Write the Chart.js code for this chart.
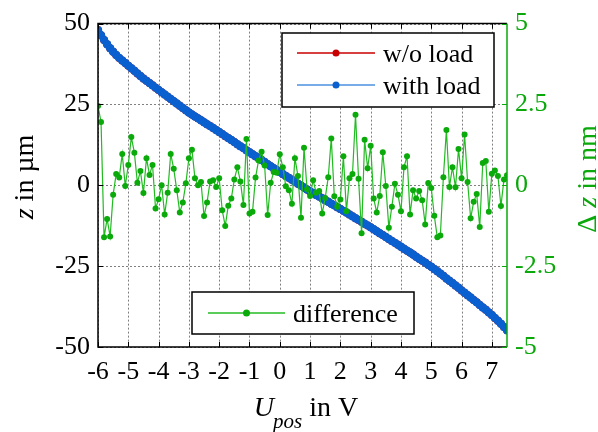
<!DOCTYPE html>
<html><head><meta charset="utf-8">
<script src="https://cdn.jsdelivr.net/npm/chart.js@4/dist/chart.umd.min.js"></script>
<style>html,body{margin:0;padding:0;background:#fff;}canvas{display:block;}</style>
</head><body>
<canvas id="c" width="598" height="432"></canvas>
<script>
// ---------- data ----------
const uPos = [
-6.0,-5.9,-5.8,-5.7,-5.6,-5.5,-5.4,-5.3,-5.2,-5.1,
-5.0,-4.9,-4.8,-4.7,-4.6,-4.5,-4.4,-4.3,-4.2,-4.1,
-4.0,-3.9,-3.8,-3.7,-3.6,-3.5,-3.4,-3.3,-3.2,-3.1,
-3.0,-2.9,-2.8,-2.7,-2.6,-2.5,-2.4,-2.3,-2.2,-2.1,
-2.0,-1.9,-1.8,-1.7,-1.6,-1.5,-1.4,-1.3,-1.2,-1.1,
-1.0,-0.9,-0.8,-0.7,-0.6,-0.5,-0.4,-0.3,-0.2,-0.1,
0.0,0.1,0.2,0.3,0.4,0.5,0.6,0.7,0.8,0.9,
1.0,1.1,1.2,1.3,1.4,1.5,1.6,1.7,1.8,1.9,
2.0,2.1,2.2,2.3,2.4,2.5,2.6,2.7,2.8,2.9,
3.0,3.1,3.2,3.3,3.4,3.5,3.6,3.7,3.8,3.9,
4.0,4.1,4.2,4.3,4.4,4.5,4.6,4.7,4.8,4.9,
5.0,5.1,5.2,5.3,5.4,5.5,5.6,5.7,5.8,5.9,
6.0,6.1,6.2,6.3,6.4,6.5,6.6,6.7,6.8,6.9,
7.0,7.1,7.2,7.3,7.4,7.5];

const zWithLoad = [
48.0,46.4,44.9,43.6,42.4,41.3,40.3,39.4,38.6,37.8,
37.0,36.2,35.4,34.6,33.8,33.0,32.3,31.6,30.9,30.2,
29.5,28.8,28.1,27.4,26.7,26.0,25.3,24.6,23.9,23.2,
22.5,21.9,21.3,20.7,20.1,19.5,18.9,18.3,17.7,17.1,
16.5,15.9,15.2,14.6,14.0,13.4,12.7,12.1,11.5,10.8,
10.2,9.6,9.0,8.4,7.8,7.2,6.5,5.9,5.3,4.7,
4.1,3.5,2.9,2.3,1.7,1.1,0.5,-0.1,-0.7,-1.3,
-1.9,-2.4,-3.0,-3.5,-4.0,-4.6,-5.1,-5.7,-6.2,-6.8,
-7.3,-7.9,-8.4,-9.0,-9.6,-10.2,-10.7,-11.3,-11.9,-12.4,
-13.0,-13.6,-14.2,-14.8,-15.4,-16.0,-16.6,-17.2,-17.8,-18.4,
-19.0,-19.6,-20.2,-20.8,-21.4,-22.1,-22.7,-23.3,-23.9,-24.6,
-25.2,-25.9,-26.6,-27.3,-28.0,-28.8,-29.5,-30.2,-31.0,-31.7,
-32.5,-33.2,-34.0,-34.7,-35.5,-36.2,-37.0,-37.8,-38.5,-39.3,
-40.1,-41.0,-41.9,-42.8,-43.8,-44.8];

// w/o load is hidden underneath "with load" in the reference (differences are in nm)
const zWithoutLoad = [
48.0,46.4,44.9,43.6,42.4,41.3,40.3,39.4,38.6,37.8,
37.0,36.2,35.4,34.6,33.8,33.0,32.3,31.6,30.9,30.2,
29.5,28.8,28.1,27.4,26.7,26.0,25.3,24.6,23.9,23.2,
22.5,21.9,21.3,20.7,20.1,19.5,18.9,18.3,17.7,17.1,
16.5,15.9,15.2,14.6,14.0,13.4,12.7,12.1,11.5,10.8,
10.2,9.6,9.0,8.4,7.8,7.2,6.5,5.9,5.3,4.7,
4.1,3.5,2.9,2.3,1.7,1.1,0.5,-0.1,-0.7,-1.3,
-1.9,-2.4,-3.0,-3.5,-4.0,-4.6,-5.1,-5.7,-6.2,-6.8,
-7.3,-7.9,-8.4,-9.0,-9.6,-10.2,-10.7,-11.3,-11.9,-12.4,
-13.0,-13.6,-14.2,-14.8,-15.4,-16.0,-16.6,-17.2,-17.8,-18.4,
-19.0,-19.6,-20.2,-20.8,-21.4,-22.1,-22.7,-23.3,-23.9,-24.6,
-25.2,-25.9,-26.6,-27.3,-28.0,-28.8,-29.5,-30.2,-31.0,-31.7,
-32.5,-33.2,-34.0,-34.7,-35.5,-36.2,-37.0,-37.8,-38.5,-39.3,
-40.1,-41.0,-41.9,-42.8,-43.8,-44.8];

const deltaZ = [
2.45,1.96,-1.61,-1.04,-1.58,-0.29,0.35,0.24,0.97,-0.02,
0.63,1.49,1.01,0.08,0.44,-0.24,0.84,0.32,0.63,-0.72,
-0.43,0.0,-0.90,-0.23,0.97,0.51,-0.15,-0.84,-0.53,0.06,
0.84,1.10,0.22,0.0,0.10,-0.95,-0.53,0.12,0.16,-0.05,
0.22,-0.77,-1.26,-0.63,-0.41,0.18,0.56,0.12,-0.61,1.43,
-0.87,-0.82,0.24,0.77,1.04,0.61,-0.92,0.08,0.41,0.39,
0.96,0.56,-0.03,-0.15,-0.57,0.84,0.29,-1.00,1.16,-0.12,
-0.33,0.16,-0.23,-0.18,-0.87,-0.39,0.25,1.45,-0.34,-0.66,
-0.44,0.90,-0.80,0.22,0.35,2.18,0.20,-1.48,1.41,0.53,
1.22,-0.41,-0.84,-0.33,1.02,-0.02,-1.31,-0.66,0.05,-0.29,
-0.80,0.56,0.90,-0.90,-0.15,-0.41,-0.18,-0.46,-1.21,0.07,
-0.08,-0.94,-1.61,-1.55,0.25,1.71,-0.05,0.56,-0.06,1.12,
0.22,1.57,0.10,-1.02,-0.51,-0.27,-1.29,0.69,0.75,-0.82,
0.36,0.46,0.29,-0.64,0.18,0.31];

const xTicks = [-6,-5,-4,-3,-2,-1,0,1,2,3,4,5,6,7];
const zTicks = [-50,-25,0,25,50];
const dzTicks = [-5,-2.5,0,2.5,5];
const seriesNames = ['w/o load','with load','difference'];

// ---------- styling ----------
const SERIF = "'Liberation Serif','Times New Roman',serif";
const GREEN_TXT = '#0aa80a';
const GREEN_LINE = '#22bb22';
const GREEN_DOT = '#0aaa0a';
const BLUE_DOT = '#0b60d0';
const BLUE_LEG_LINE = '#4a90e0';
const RED = '#c80000';

const pts = (ys) => uPos.map((u, i) => ({x: u, y: ys[i]}));

function rich(ctx, parts, x, y) {
  let w = 0;
  parts.forEach(p => { ctx.font = p.font; p.w = ctx.measureText(p.t).width; w += p.w + (p.dx || 0); });
  let cx = x - w / 2;
  parts.forEach(p => {
    ctx.font = p.font; ctx.fillStyle = p.color;
    ctx.fillText(p.t, cx + (p.dx || 0), y + (p.dy || 0));
    cx += p.w + (p.dx || 0);
  });
}

const decor = {
  id: 'decor',
  beforeDatasetsDraw(chart) {
    const {ctx, chartArea: a, scales} = chart;
    ctx.save();
    ctx.strokeStyle = '#808080'; ctx.lineWidth = 1; ctx.setLineDash([2, 2]);
    xTicks.forEach(v => {
      const px = Math.round(scales.x.getPixelForValue(v)) + 0.5;
      ctx.beginPath(); ctx.moveTo(px, a.top); ctx.lineTo(px, a.bottom); ctx.stroke();
    });
    zTicks.forEach(v => {
      const py = Math.round(scales.y.getPixelForValue(v)) + 0.5;
      ctx.beginPath(); ctx.moveTo(a.left, py); ctx.lineTo(a.right, py); ctx.stroke();
    });
    ctx.restore();
  },
  afterDatasetsDraw(chart) {
    const {ctx, chartArea: a, scales} = chart;
    ctx.save();
    ctx.setLineDash([]);
    ctx.lineWidth = 1.5; ctx.strokeStyle = '#000';
    ctx.beginPath();
    ctx.moveTo(a.right, a.top); ctx.lineTo(a.left, a.top); ctx.lineTo(a.left, a.bottom); ctx.lineTo(a.right, a.bottom);
    ctx.stroke();
    ctx.lineWidth = 1;
    xTicks.forEach(v => {
      const px = Math.round(scales.x.getPixelForValue(v)) + 0.5;
      ctx.beginPath(); ctx.moveTo(px, a.bottom); ctx.lineTo(px, a.bottom - 5); ctx.stroke();
      ctx.beginPath(); ctx.moveTo(px, a.top); ctx.lineTo(px, a.top + 5); ctx.stroke();
    });
    zTicks.forEach(v => {
      const py = Math.round(scales.y.getPixelForValue(v)) + 0.5;
      ctx.beginPath(); ctx.moveTo(a.left, py); ctx.lineTo(a.left + 5, py); ctx.stroke();
    });
    ctx.strokeStyle = GREEN_TXT;
    dzTicks.forEach(v => {
      const py = Math.round(scales.y2.getPixelForValue(v)) + 0.5;
      ctx.beginPath(); ctx.moveTo(a.right, py); ctx.lineTo(a.right - 5, py); ctx.stroke();
    });
    ctx.lineWidth = 1.5;
    ctx.beginPath(); ctx.moveTo(a.right, a.top); ctx.lineTo(a.right, a.bottom); ctx.stroke();
    ctx.restore();
  },
  afterDraw(chart) {
    const {ctx} = chart;
    const ds = chart.data.datasets;
    ctx.save();
    ctx.setLineDash([]);
    function box(x0, y0, x1, y1) {
      ctx.fillStyle = '#fff'; ctx.fillRect(x0, y0, x1 - x0, y1 - y0);
      ctx.strokeStyle = '#000'; ctx.lineWidth = 1.5; ctx.strokeRect(x0, y0, x1 - x0, y1 - y0);
    }
    function entry(xl0, xl1, y, lineCol, dotCol, text) {
      ctx.strokeStyle = lineCol; ctx.lineWidth = 1.5;
      ctx.beginPath(); ctx.moveTo(xl0, y); ctx.lineTo(xl1, y); ctx.stroke();
      ctx.fillStyle = dotCol; ctx.beginPath(); ctx.arc((xl0 + xl1) / 2, y, 3.5, 0, Math.PI * 2); ctx.fill();
      ctx.fillStyle = '#000'; ctx.font = '26px ' + SERIF; ctx.textBaseline = 'alphabetic'; ctx.textAlign = 'left';
      ctx.fillText(text, xl1 + 8, y + 9);
    }
    box(282, 33, 494, 107);
    entry(297, 375, 53, ds[0].borderColor, ds[0].pointBackgroundColor, ds[0].label);
    entry(297, 375, 85, BLUE_LEG_LINE, ds[1].pointBackgroundColor, ds[1].label);
    box(192, 292, 414, 334);
    entry(208, 285, 313, ds[2].borderColor, ds[2].pointBackgroundColor, ds[2].label);

    ctx.textBaseline = 'alphabetic'; ctx.textAlign = 'left';
    ctx.save();
    ctx.translate(33, 177); ctx.rotate(-Math.PI / 2);
    rich(ctx, [
      {t: 'z', font: 'italic 28px ' + SERIF, color: '#000'},
      {t: ' in \u00b5m', font: '28px ' + SERIF, color: '#000'}
    ], 0, 0);
    ctx.restore();
    ctx.save();
    ctx.translate(596, 179); ctx.rotate(-Math.PI / 2);
    rich(ctx, [
      {t: '\u0394 ', font: '28px ' + SERIF, color: GREEN_TXT},
      {t: 'z', font: 'italic 28px ' + SERIF, color: GREEN_TXT},
      {t: ' in nm', font: '28px ' + SERIF, color: GREEN_TXT}
    ], 0, 0);
    ctx.restore();
    rich(ctx, [
      {t: 'U', font: 'italic 28px ' + SERIF, color: '#000'},
      {t: 'pos', font: 'italic 21px ' + SERIF, color: '#000', dy: 12, dx: -1},
      {t: ' in V', font: '28px ' + SERIF, color: '#000'}
    ], 306, 416);
    ctx.restore();
  }
};

const tickFont = {family: SERIF, size: 26};

new Chart(document.getElementById('c'), {
  type: 'line',
  data: {
    datasets: [
      {label: seriesNames[0], data: pts(zWithoutLoad), xAxisID: 'x', yAxisID: 'y', order: 3,
       borderColor: RED, borderWidth: 1.5, pointRadius: 4, pointBackgroundColor: RED, pointBorderWidth: 0},
      {label: seriesNames[1], data: pts(zWithLoad), xAxisID: 'x', yAxisID: 'y', order: 2,
       borderColor: BLUE_DOT, borderWidth: 6.5, pointRadius: 4.2, pointBackgroundColor: BLUE_DOT, pointBorderWidth: 0},
      {label: seriesNames[2], data: pts(deltaZ), xAxisID: 'x', yAxisID: 'y2', order: 1,
       borderColor: GREEN_LINE, borderWidth: 1.2, pointRadius: 3, pointBackgroundColor: GREEN_DOT, pointBorderWidth: 0}
    ]
  },
  options: {
    responsive: false, animation: false, devicePixelRatio: 1,
    layout: {padding: {top: 20, left: 0, right: 0, bottom: 0}},
    plugins: {legend: {display: false}, tooltip: {enabled: false}},
    elements: {line: {tension: 0}},
    scales: {
      x: {type: 'linear', min: -6, max: 7.5,
          grid: {display: false, drawTicks: false}, border: {display: false},
          afterBuildTicks: s => { s.ticks = xTicks.map(v => ({value: v})); },
          afterFit: s => { s.height = 85; },
          ticks: {font: tickFont, color: '#000', padding: 10, maxRotation: 0, autoSkip: false, callback: v => String(v)}},
      y: {type: 'linear', position: 'left', min: -50, max: 50,
          grid: {display: false, drawTicks: false}, border: {display: false},
          afterBuildTicks: s => { s.ticks = zTicks.map(v => ({value: v})); },
          afterFit: s => { s.width = 98; },
          ticks: {font: tickFont, color: '#000', padding: 8, callback: v => String(v)}},
      y2: {type: 'linear', position: 'right', min: -5, max: 5,
          grid: {display: false, drawTicks: false}, border: {display: false},
          afterBuildTicks: s => { s.ticks = dzTicks.map(v => ({value: v})); },
          afterFit: s => { s.width = 91; },
          ticks: {font: tickFont, color: GREEN_TXT, padding: 8, callback: v => String(v)}}
    }
  },
  plugins: [decor]
});
</script>
</body></html>
